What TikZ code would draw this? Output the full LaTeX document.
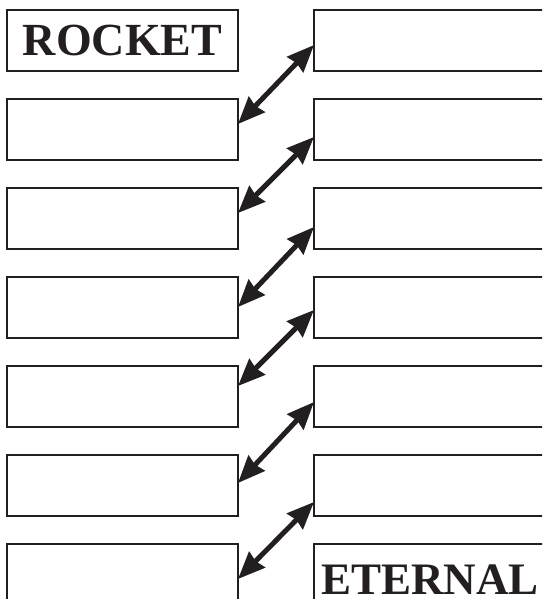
\documentclass[tikz,border=0pt]{standalone}
\usepackage{fontspec}
\setmainfont{Liberation Serif}
\usetikzlibrary{arrows.meta}
\definecolor{ink}{HTML}{231F20}
\begin{document}
\begin{tikzpicture}[x=1pt,y=-1pt,
  lbox/.style={draw=ink, line width=2.2pt, minimum width=231pt, minimum height=61pt,
    inner sep=0pt, outer sep=0pt, anchor=north west, text=ink,
    font=\bfseries\fontsize{46}{46}\selectfont},
  rbox/.style={lbox, minimum width=270pt},
  link/.style={draw=ink, line width=5pt,
    {Stealth[length=27pt,width=22pt,inset=2pt]}-{Stealth[length=27pt,width=22pt,inset=2pt]}}]
\path[use as bounding box, clip] (0,0) rectangle (542,599);
\fill[white] (0,0) rectangle (542,599);
% left column
\node[lbox] (l1) at (7,10) {ROCKET};
\node[lbox] (l2) at (7,99) {};
\node[lbox] (l3) at (7,188) {};
\node[lbox] (l4) at (7,277) {};
\node[lbox] (l5) at (7,366) {};
\node[lbox] (l6) at (7,455) {};
\node[lbox] (l7) at (7,544) {};
% right column
\node[rbox] (r1) at (314,10) {};
\node[rbox] (r2) at (314,99) {};
\node[rbox] (r3) at (314,188) {};
\node[rbox] (r4) at (314,277) {};
\node[rbox] (r5) at (314,366) {};
\node[rbox] (r6) at (314,455) {};
\node[rbox] (r7) at (314,544) {};
\node[anchor=base west, inner sep=0pt, text=ink, font=\bfseries\fontsize{45}{45}\selectfont] (et) at (321,594) {ETERNAL};
% arrows
\draw[link] ([yshift=-35pt]r1.north west) -- ([yshift=-25pt]l2.north east);
\draw[link] ([yshift=-38pt]r2.north west) -- ([yshift=-25pt]l3.north east);
\draw[link] ([yshift=-39pt]r3.north west) -- ([yshift=-30pt]l4.north east);
\draw[link] ([yshift=-33pt]r4.north west) -- ([yshift=-20pt]l5.north east);
\draw[link] ([yshift=-36pt]r5.north west) -- ([yshift=-28pt]l6.north east);
\draw[link] ([yshift=-47pt]r6.north west) -- ([yshift=-35pt]l7.north east);
\end{tikzpicture}
\end{document}
